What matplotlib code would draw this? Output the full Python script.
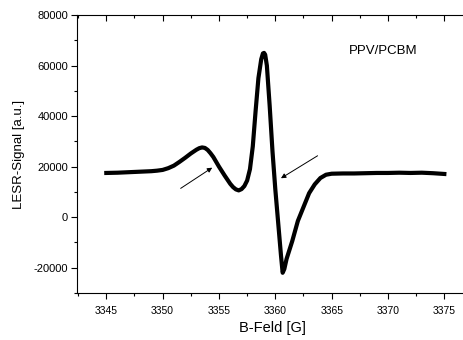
import matplotlib
matplotlib.use('Agg')
import matplotlib.pyplot as plt
from matplotlib.ticker import MultipleLocator

# LESR spectrum
field = [3345, 3346, 3347, 3348, 3349, 3349.5, 3350, 3350.5, 3351, 3351.5, 3352,
         3352.5, 3353, 3353.25, 3353.5, 3353.75, 3354, 3354.25, 3354.5, 3355,
         3355.5, 3356, 3356.25, 3356.5, 3356.75, 3357, 3357.25, 3357.5, 3357.75,
         3358, 3358.25, 3358.5, 3358.75, 3358.9, 3359, 3359.1, 3359.25, 3359.5,
         3359.75, 3360, 3360.25, 3360.5, 3360.65, 3360.8, 3361, 3361.25, 3361.5,
         3362, 3362.5, 3363, 3363.5, 3364, 3364.5, 3365, 3366, 3367, 3368, 3369,
         3370, 3371, 3372, 3373, 3374, 3375]
signal = [17500, 17600, 17800, 18000, 18200, 18400, 18700, 19400, 20400, 21900, 23500,
          25200, 26700, 27300, 27600, 27400, 26600, 25300, 23800, 20000,
          16500, 13200, 11900, 11000, 10600, 11100, 12300, 14500, 19000,
          28000, 42000, 55000, 62500, 64800, 65000, 64300, 60000, 44000,
          26000, 11000, -2000, -15000, -22000, -20500, -16500, -13000, -9500,
          -1500, 4000, 9500, 13000, 15500, 16800, 17200, 17300, 17300, 17400, 17500,
          17500, 17600, 17500, 17600, 17400, 17100]

# arrows (tail, head) and label
arrow_tails = [(3351.6, 11400), (3363.75, 24300)]
arrow_heads = [(3354.4, 19600), (3360.5, 15400)]
label = 'PPV/PCBM'

plt.rcParams['font.family'] = ['Liberation Sans', 'DejaVu Sans']
plt.rcParams['axes.unicode_minus'] = False

fig = plt.figure(figsize=(4.64, 3.40), dpi=100)
ax = fig.add_axes([77 / 464, 47 / 340, 391 / 464, 278 / 340])

ax.plot(field, signal, color='black', lw=3.0, solid_joinstyle='round')

for tail, head in zip(arrow_tails, arrow_heads):
    ax.annotate('', xy=head, xytext=tail,
                arrowprops=dict(arrowstyle='-|>', lw=0.7, color='black',
                                mutation_scale=7, shrinkA=0, shrinkB=0))

ax.text(3369.6, 65800, label, fontsize=9.5, ha='center', va='center')

ax.set_xlim(3342.4, 3377.1)
ax.set_ylim(-30000, 80000)
ax.xaxis.set_major_locator(MultipleLocator(5))
ax.xaxis.set_minor_locator(MultipleLocator(2.5))
ax.yaxis.set_major_locator(MultipleLocator(20000))
ax.yaxis.set_minor_locator(MultipleLocator(10000))

ax.spines['right'].set_visible(False)
for s in ['left', 'bottom', 'top']:
    ax.spines[s].set_linewidth(0.8)

ax.tick_params(axis='x', which='major', direction='out', length=4, width=0.8,
               labelsize=7.5, pad=5, top=True)
ax.tick_params(axis='x', which='minor', direction='out', length=2.5, width=0.8, top=True)
ax.tick_params(axis='y', which='major', direction='out', length=4, width=0.8,
               labelsize=8, pad=2.5)
ax.tick_params(axis='y', which='minor', direction='out', length=2, width=0.8)
# top ticks point inward
for t in ax.xaxis.get_major_ticks() + ax.xaxis.get_minor_ticks():
    t.tick2line.set_marker(matplotlib.lines.TICKDOWN)

ax.set_xlabel('B-Feld [G]', fontsize=10.5, labelpad=4)
ax.set_ylabel('LESR-Signal [a.u.]', fontsize=9.5, labelpad=6)

fig.savefig('out.png', dpi=100)
